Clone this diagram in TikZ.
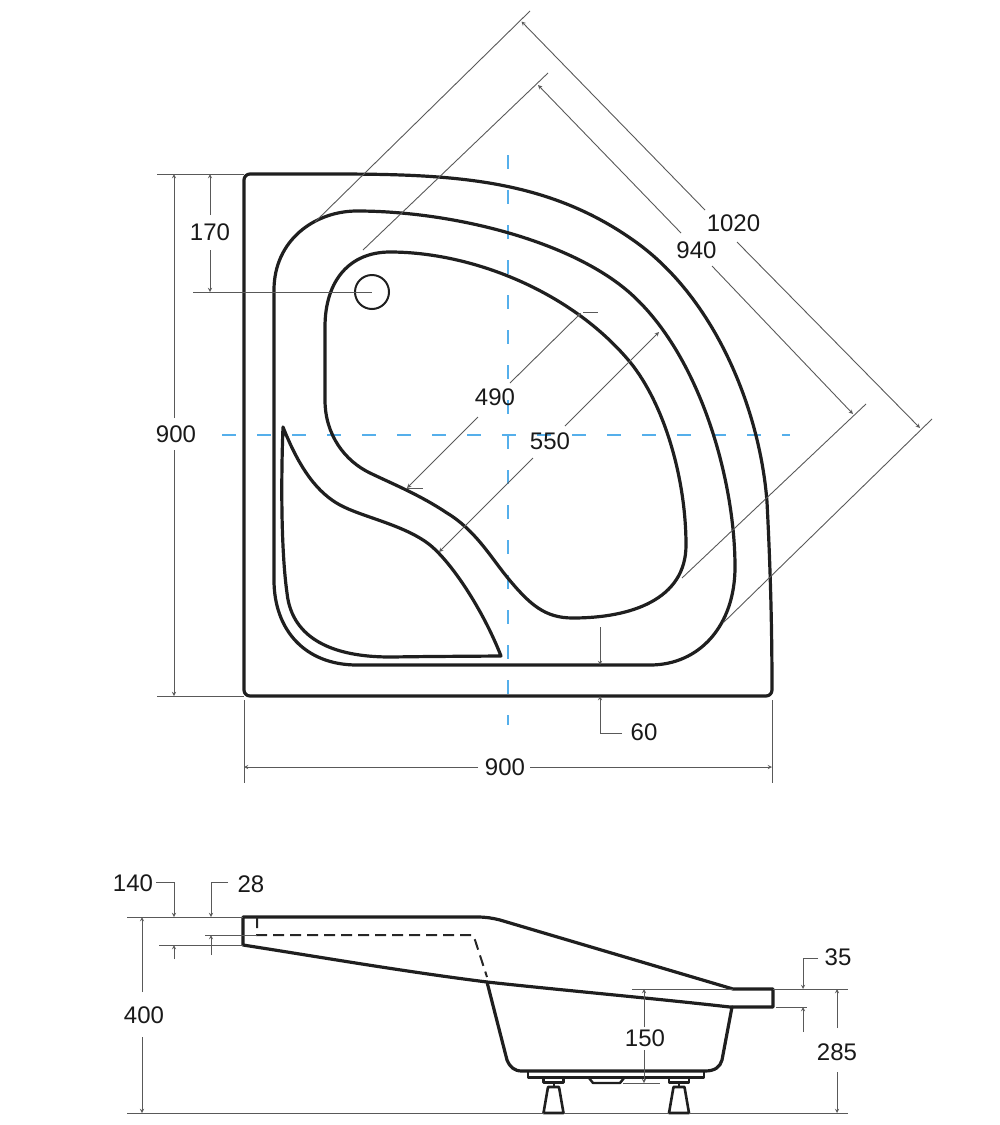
\documentclass[tikz,border=0pt]{standalone}
\usepackage{fontspec}
\setmainfont{Liberation Sans}
\definecolor{axisblue}{RGB}{85,175,235}
\begin{document}
\begin{tikzpicture}[
        x=1pt, y=-1pt,
        outline/.style={draw=black!88, line width=3.2pt, line join=round, line cap=round},
        hidden/.style={draw=black!85, line width=2pt, dash pattern=on 11pt off 6pt},
        axis/.style={draw=axisblue, line width=1.7pt, dash pattern=on 14pt off 21pt},
        dim/.style={draw=black!65, line width=0.9pt},
        dimarrow/.style={dim, ->, >=stealth},
        label/.style={inner sep=0pt, text=black!90, font=\fontsize{24}{24}\selectfont}
    ]
    \useasboundingbox (0,0) rectangle (1000,1125);

    % axes
    \coordinate (axT) at (508,155); \coordinate (axB) at (508,725);
    \coordinate (axL) at (222,435); \coordinate (axR) at (790,435);
    \draw[axis] (axT) -- (axB);
    \draw[axis] (axL) -- (axR);

    % plan: outer edge
    \draw[outline] (250,174) -- (330,174) .. controls (450,174) and (545,178) .. (633,240)
        .. controls (715,297) and (760,410) .. (767,502) .. controls (770,560) and (772,620) .. (772,690)
        arc[start angle=0, end angle=90, radius=6] -- (250,696)
        arc[start angle=90, end angle=180, radius=6] -- (244,180) arc[start angle=180, end angle=270, radius=6];

    % plan: rim
    \draw[outline] (274,580) -- (274,290) .. controls (274,240) and (315,211) .. (357,211)
        .. controls (450,211) and (570,240) .. (630,293) .. controls (700,355) and (735,480) .. (735,567)
        .. controls (735,625) and (700,665) .. (650,665) -- (357,665)
        .. controls (305,665) and (274,630) .. (274,580);

    % plan: well
    \draw[outline] (325,400) -- (325,327) .. controls (325,280) and (350,252) .. (390,252)
        .. controls (470,252) and (570,290) .. (630,362) .. controls (665,405) and (686,480) .. (686,545)
        .. controls (686,600) and (630,618) .. (573,618) .. controls (545,618) and (530,605) .. (507,577)
        .. controls (490,556) and (475,530) .. (447,513) .. controls (420,495) and (395,485) .. (370,473)
        .. controls (345,461) and (325,435) .. (325,400);

    % plan: seat
    \draw[outline] (283,427) .. controls (300,470) and (318,493) .. (340,505)
        .. controls (362,517) and (405,525) .. (430,545) .. controls (452,563) and (483,610) .. (501,656)
        -- (430,656.5) -- (390,657) .. controls (335,657) and (292,640) .. (287,593)
        .. controls (281,550) and (281,480) .. (283,427);

    % plan: drain
    \node[draw=black!88, line width=2pt, circle, minimum size=34pt, inner sep=0pt] (drain) at (372,292) {};

    % plan: left dimensions
    \coordinate (topA) at (157,174); \coordinate (topB) at (244,174);
    \coordinate (botA) at (157,696); \coordinate (botB) at (244,696);
    \coordinate (drnA) at (193,292); \coordinate (drnB) at (372,292);
    \coordinate (h900T) at (174,174); \coordinate (h900U) at (174,418);
    \coordinate (h900V) at (174,450); \coordinate (h900B) at (174,696);
    \coordinate (h170T) at (210,174); \coordinate (h170U) at (210,215);
    \coordinate (h170V) at (210,250); \coordinate (h170B) at (210,292);
    \node[label] (lab900h) at (176,434) {900};
    \node[label] (lab170) at (210,232) {170};
    \draw[dim] (topA) -- (topB);
    \draw[dim] (botA) -- (botB);
    \draw[dim] (drnA) -- (drnB);
    \draw[dimarrow] (h900U) -- (h900T);
    \draw[dimarrow] (h900V) -- (h900B);
    \draw[dimarrow] (h170U) -- (h170T);
    \draw[dimarrow] (h170V) -- (h170B);

    % plan: bottom dimensions
    \coordinate (extLa) at (244,700); \coordinate (extLb) at (244,783);
    \coordinate (extRa) at (772,700); \coordinate (extRb) at (772,783);
    \coordinate (w900L) at (244,767); \coordinate (w900U) at (478,767);
    \coordinate (w900V) at (530,767); \coordinate (w900R) at (772,767);
    \node[label] (lab900w) at (505,767) {900};
    \draw[dim] (extLa) -- (extLb);
    \draw[dim] (extRa) -- (extRb);
    \draw[dimarrow] (w900U) -- (w900L);
    \draw[dimarrow] (w900V) -- (w900R);

    % plan: rim width
    \coordinate (r60a) at (600,627); \coordinate (r60b) at (600,665);
    \coordinate (r60c) at (622,733); \coordinate (r60d) at (600,733); \coordinate (r60e) at (600,696);
    \node[label] (lab60) at (644,732) {60};
    \draw[dimarrow] (r60a) -- (r60b);
    \draw[dimarrow] (r60c) -- (r60d) -- (r60e);

    % plan: diagonal dimensions
    \coordinate (d1020a) at (315,222); \coordinate (d1020b) at (530,11);
    \coordinate (d1020c) at (723,623); \coordinate (d1020d) at (932,419);
    \coordinate (d1020e) at (521.5,21.5); \coordinate (d1020f) at (705,210);
    \coordinate (d1020g) at (737,242); \coordinate (d1020h) at (920,428);
    \node[label] (lab1020) at (733.5,223) {1020};
    \draw[dim] (d1020a) -- (d1020b);
    \draw[dim] (d1020c) -- (d1020d);
    \draw[dimarrow] (d1020f) -- (d1020e);
    \draw[dimarrow] (d1020g) -- (d1020h);

    \coordinate (d940a) at (363,250); \coordinate (d940b) at (548,73);
    \coordinate (d940c) at (682,578); \coordinate (d940d) at (866,404);
    \coordinate (d940e) at (538,85); \coordinate (d940f) at (681,233);
    \coordinate (d940g) at (712,266); \coordinate (d940h) at (853,414);
    \node[label] (lab940) at (696.5,250) {940};
    \draw[dim] (d940a) -- (d940b);
    \draw[dim] (d940c) -- (d940d);
    \draw[dimarrow] (d940f) -- (d940e);
    \draw[dimarrow] (d940g) -- (d940h);

    \coordinate (d490a) at (510,383); \coordinate (d490b) at (581,313);
    \coordinate (d490c) at (478,417); \coordinate (d490d) at (407,488);
    \coordinate (d490e) at (583,312); \coordinate (d490f) at (598,312);
    \coordinate (d490g) at (407,488); \coordinate (d490h) at (423,488);
    \node[label] (lab490) at (495,397) {490};
    \draw[dimarrow] (d490a) -- (d490b);
    \draw[dimarrow] (d490c) -- (d490d);
    \draw[dim] (d490e) -- (d490f);
    \draw[dim] (d490g) -- (d490h);

    \coordinate (d550a) at (565,426); \coordinate (d550b) at (659,332);
    \coordinate (d550c) at (533,458); \coordinate (d550d) at (439,552);
    \node[label] (lab550) at (550,441) {550};
    \draw[dimarrow] (d550a) -- (d550b);
    \draw[dimarrow] (d550c) -- (d550d);

    % side view: shell
    \draw[outline] (243,917) -- (477,917) .. controls (486,917) and (492,918) .. (500,920) -- (733,989)
        -- (773,989) -- (773,1007) -- (730,1007) .. controls (650,998) and (560,990) .. (487,982)
        .. controls (400,971) and (320,957) .. (243,945) -- cycle;
    \draw[outline] (487,982) -- (507,1060) .. controls (510,1067) and (514,1071) .. (522,1071) -- (705,1071)
        .. controls (715,1071) and (720,1067) .. (722,1060) -- (732,1007);
    \draw[hidden] (257,917) -- (257,935) -- (472,935) -- (475,940) -- (487,977);

    % side view: frame, feet
    \draw[outline, line width=2.6pt] (528,1072) -- (528,1077.5) -- (704,1077.5) -- (704,1072);
    \draw[outline, line width=2.4pt] (589,1078) -- (593,1083) -- (620,1083) -- (624,1078);
    \foreach \x in {553.5,679} {
        \draw[outline, line width=2.6pt] (\x-10,1079) -- (\x-10,1082.5) -- (\x+10,1082.5) -- (\x+10,1079);
        \draw[outline, line width=2pt] (\x,1083) -- (\x,1087);
        \draw[outline, line width=2.6pt] (\x-5.5,1087) -- (\x+5.5,1087) -- (\x+10,1113) -- (\x-10,1113) -- cycle;
    }

    % side view: left dimensions
    \coordinate (topC) at (127,917); \coordinate (topD) at (243,917);
    \coordinate (b140a) at (159,945); \coordinate (b140b) at (243,945);
    \coordinate (b28a) at (205,935); \coordinate (b28b) at (257,935);
    \coordinate (gndA) at (127,1113); \coordinate (gndB) at (544,1113);
    \coordinate (gndC) at (564,1113); \coordinate (gndD) at (669,1113);
    \coordinate (gndE) at (689,1113); \coordinate (gndF) at (848,1113);
    \draw[dim] (topC) -- (topD);
    \draw[dim] (b140a) -- (b140b);
    \draw[dim] (b28a) -- (b28b);
    \draw[dim] (gndA) -- (gndB);
    \draw[dim] (gndC) -- (gndD);
    \draw[dim] (gndE) -- (gndF);

    \coordinate (t140a) at (156,882); \coordinate (t140b) at (174,882); \coordinate (t140c) at (174,917);
    \coordinate (t140d) at (174,959); \coordinate (t140e) at (174,945);
    \coordinate (t28a) at (228,882); \coordinate (t28b) at (211,882); \coordinate (t28c) at (211,917);
    \coordinate (t28d) at (211,955); \coordinate (t28e) at (211,935);
    \node[label] (lab140) at (133,883) {140};
    \node[label] (lab28) at (251,884) {28};
    \draw[dimarrow] (t140a) -- (t140b) -- (t140c);
    \draw[dimarrow] (t140d) -- (t140e);
    \draw[dimarrow] (t28a) -- (t28b) -- (t28c);
    \draw[dimarrow] (t28d) -- (t28e);

    \coordinate (h400a) at (142,992); \coordinate (h400b) at (142,917);
    \coordinate (h400c) at (142,1037); \coordinate (h400d) at (142,1113);
    \node[label] (lab400) at (144,1015) {400};
    \draw[dimarrow] (h400a) -- (h400b);
    \draw[dimarrow] (h400c) -- (h400d);

    % side view: right dimensions
    \coordinate (rimA) at (773,989); \coordinate (rimB) at (848,989);
    \coordinate (rimC) at (776,1007); \coordinate (rimD) at (807,1007);
    \coordinate (t35a) at (818,958); \coordinate (t35b) at (803,958); \coordinate (t35c) at (803,989);
    \coordinate (t35d) at (803,1032); \coordinate (t35e) at (803,1007);
    \node[label] (lab35) at (838,957) {35};
    \draw[dim] (rimA) -- (rimB);
    \draw[dim] (rimC) -- (rimD);
    \draw[dimarrow] (t35a) -- (t35b) -- (t35c);
    \draw[dimarrow] (t35d) -- (t35e);

    \coordinate (h285a) at (837,1028); \coordinate (h285b) at (837,989);
    \coordinate (h285c) at (837,1072); \coordinate (h285d) at (837,1113);
    \node[label] (lab285) at (837,1052) {285};
    \draw[dimarrow] (h285a) -- (h285b);
    \draw[dimarrow] (h285c) -- (h285d);

    \coordinate (h150e) at (632,989); \coordinate (h150f) at (733,989);
    \coordinate (h150g) at (623,1083); \coordinate (h150h) at (660,1083);
    \coordinate (h150a) at (644,1027); \coordinate (h150b) at (644,989);
    \coordinate (h150c) at (644,1050); \coordinate (h150d) at (644,1083);
    \node[label] (lab150) at (645,1038) {150};
    \draw[dim] (h150e) -- (h150f);
    \draw[dim] (h150g) -- (h150h);
    \draw[dimarrow] (h150a) -- (h150b);
    \draw[dimarrow] (h150c) -- (h150d);
\end{tikzpicture}
\end{document}
